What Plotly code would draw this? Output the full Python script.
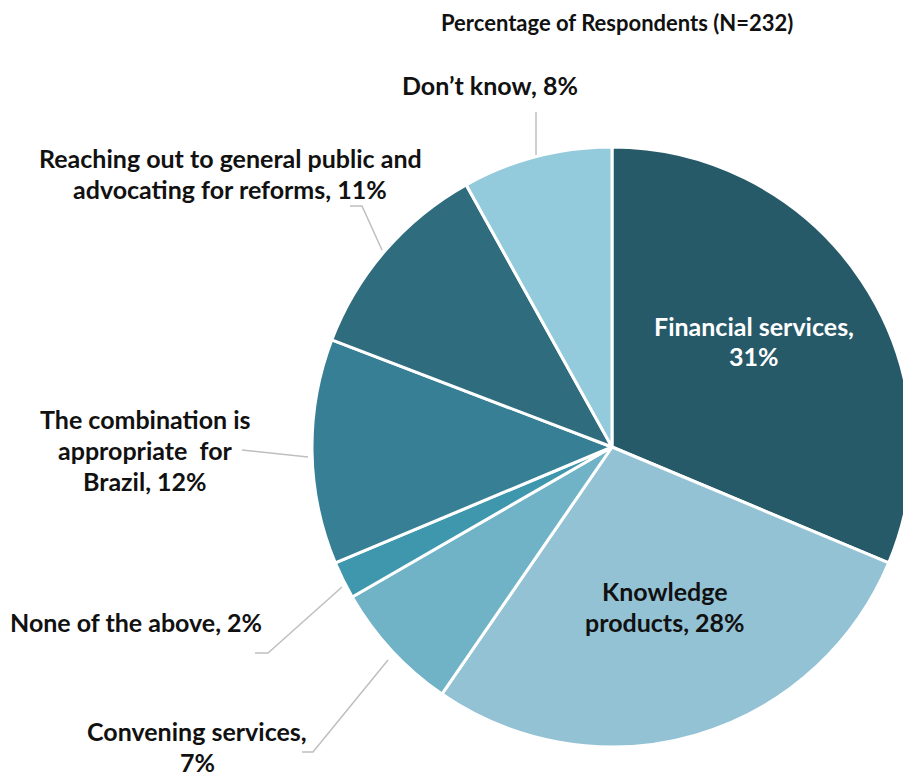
import plotly.graph_objects as go

W, H = 915, 773
OFF = 0

categories = ["Financial services", "Knowledge products", "Convening services",
              "None of the above", "The combination is appropriate for Brazil",
              "Reaching out to general public and advocating for reforms", "Don\u2019t know"]
values = [31, 28, 7, 2, 12, 11, 8]
colors = ["#275A69", "#93C2D5", "#70B3C7", "#3E97AC", "#377F94", "#2F6C7E", "#93CADC"]

label_lines = [
    ["Financial services,", "31%"],
    ["Knowledge", "products, 28%"],
    ["Convening services,", "7%"],
    ["None of the above, 2%"],
    ["The combination is", "appropriate  for", "Brazil, 12%"],
    ["Reaching out to general public and", "advocating for reforms, 11%"],
    ["Don\u2019t know, 8%"],
]
# label centers in screen pixels (x, y from top)
label_pos = [(754, 341), (665, 606), (197, 746), (136, 622), (145, 450), (230, 173), (490, 85)]
label_colors = ["white", "#111111", "#111111", "#111111", "#111111", "#111111", "#111111"]
LINE_H = 31

# leader lines (screen pixel paths)
leaders = [
    None, None,
    [(302, 752), (313, 752), (388, 660)],
    [(255, 653), (268, 653), (342, 587)],
    [(242, 450), (308, 457)],
    [(350, 206), (362, 206), (382, 250)],
    [(536, 112), (536, 155)],
]

cx, cy, r = 612, 447, 300

def px(x):
    return (x - OFF) / W

def py(y):
    return 1 - (y - OFF) / H

fig = go.Figure(go.Pie(
    labels=categories, values=values, sort=False, direction="clockwise", rotation=0,
    marker=dict(colors=colors, line=dict(color="white", width=3)),
    textinfo="none", hoverinfo="label+percent", showlegend=False,
    domain=dict(x=[px(cx - r), min(1, px(cx + r))], y=[py(cy + r), py(cy - r)]),
))

FONT = "Lato"
ann = []
for lines, (x, y), c in zip(label_lines, label_pos, label_colors):
    n = len(lines)
    for i, t in enumerate(lines):
        yy = y + (i - (n - 1) / 2) * LINE_H
        ann.append(dict(x=px(x), y=py(yy), xref="paper", yref="paper", text=t, showarrow=False,
                        xanchor="center", yanchor="middle", align="center",
                        font=dict(family=FONT, size=25, color=c, weight="bold")))
ann.append(dict(x=px(617), y=py(22), xref="paper", yref="paper",
                text="Percentage of Respondents (N=232)", showarrow=False,
                xanchor="center", yanchor="middle",
                font=dict(family=FONT, size=22, color="#111111", weight="bold")))

shapes = []
for path in leaders:
    if path is None:
        continue
    d = "M " + " L ".join(f"{px(x)},{py(y)}" for x, y in path)
    shapes.append(dict(type="path", path=d, xref="paper", yref="paper",
                       line=dict(color="#BFBFBF", width=1.5)))

fig.update_layout(width=W, height=H, margin=dict(l=0, r=0, t=0, b=0),
                  paper_bgcolor="white", plot_bgcolor="white",
                  annotations=ann, shapes=shapes)
fig.write_html("out.html", config={"displayModeBar": False},
               post_script="document.body.style.margin='0';document.body.style.overflow='hidden';"
                           "document.documentElement.style.overflow='hidden';")
